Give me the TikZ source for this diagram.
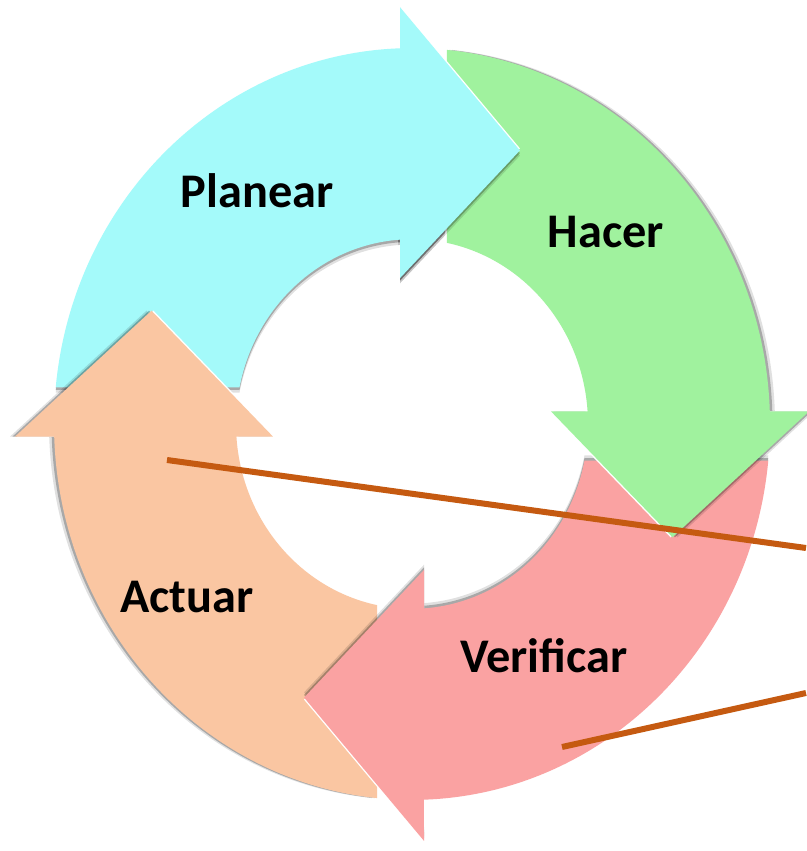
\documentclass[tikz,border=0pt]{standalone}
\usepackage{fontspec}
\setmainfont{Carlito}
\usepackage{tikz}

\definecolor{planearcol}{RGB}{164,250,250}
\definecolor{hacercol}{RGB}{160,242,158}
\definecolor{verificarcol}{RGB}{250,162,162}
\definecolor{actuarcol}{RGB}{250,198,162}
\definecolor{calloutcol}{RGB}{197,90,17}

% one arrow of the cycle with its shadow: #1 turn, #2 colour
\newcommand{\pdcaarrow}[2]{%
  \fill[black, opacity=0.12, shift={({-90-(#1)}:5)}, rotate=#1, ring];
  \fill[black, opacity=0.25, shift={({-90-(#1)}:2.5)}, rotate=#1, ring];
  \fill[white, shift={({90-(#1)}:2)}, rotate=#1, ring];
  \fill[#2, rotate=#1, ring];
}

\begin{document}
\begin{tikzpicture}[x=0.02cm, y=0.02cm,
    ring/.style={insert path={(174.39:358) arc[start angle=174.39, end angle=91.92, radius=358]
      -- (-12,397) -- (67.5:282) -- (-12,139) -- (93.91:176)
      arc[start angle=93.91, end angle=168.53, radius=176] -- cycle}},
    stage/.style={inner sep=0pt, font=\bfseries\fontsize{27.5}{32}\selectfont},
    callout/.style={draw=calloutcol, line width=0.12cm}]
  \useasboundingbox (-412,-427) rectangle (394,424);

  % Draw the four arrows, each head over the tail of the next
  \begin{scope}[yscale=1.05]
    \foreach \a/\c in {0/planearcol, -270/actuarcol, -180/verificarcol, -90/hacercol} {
      \pdcaarrow{\a}{\c}
    }
    % Put the head of Planear back over Hacer
    \begin{scope}
      \clip (-14,110) rectangle (220,430);
      \pdcaarrow{0}{planearcol}
    \end{scope}
  \end{scope}

  % Stage names
  \node[stage] (planear) at (-155,233) {Planear};
  \node[stage] (hacer) at (194,192) {Hacer};
  \node[stage] (verificar) at (132,-232) {Verificar};
  \node[stage] (actuar) at (-225,-173) {Actuar};

  % Callout lines running out on the right
  \coordinate (pin1) at (-245,-36);
  \coordinate (out1) at (394,-124);
  \coordinate (pin2) at (150,-323);
  \coordinate (out2) at (394,-269);
  \draw[callout] (pin1) -- (out1);
  \draw[callout] (pin2) -- (out2);
\end{tikzpicture}
\end{document}
